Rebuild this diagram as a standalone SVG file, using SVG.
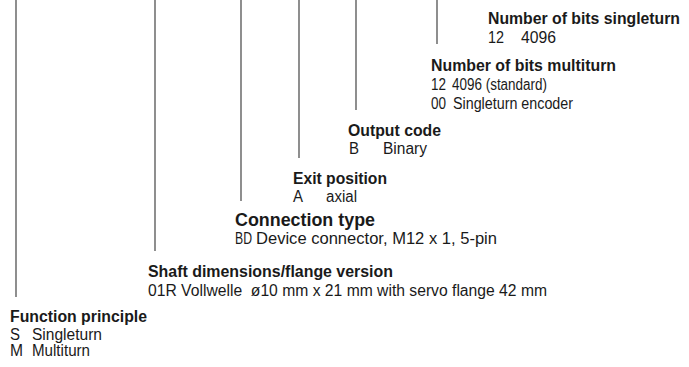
<svg xmlns="http://www.w3.org/2000/svg" width="689" height="367" viewBox="0 0 689 367">
<style>
text{font-family:"Liberation Sans",Arial,sans-serif;fill:#1a1a1a}
.t{font-size:16px;font-weight:bold}
.tc{font-size:18px;font-weight:bold}
.r{font-size:16px}
.c line{stroke:#444;stroke-width:1.2}
</style>
<rect width="689" height="367" fill="#fff"/>
<g class="c" id="connectors">
<line x1="16" y1="0" x2="16" y2="297"/>
<line x1="155" y1="0" x2="155" y2="251"/>
<line x1="241" y1="0" x2="241" y2="201"/>
<line x1="299" y1="0" x2="299" y2="158"/>
<line x1="356" y1="0" x2="356" y2="110"/>
<line x1="437" y1="0" x2="437" y2="44"/>
</g>
<g id="singleturn">
<text class="t" x="488" y="24" textLength="192" lengthAdjust="spacingAndGlyphs">Number of bits singleturn</text>
<text class="r" x="488" y="43" textLength="16" lengthAdjust="spacingAndGlyphs">12</text>
<text class="r" x="521" y="43" textLength="35" lengthAdjust="spacingAndGlyphs">4096</text>
</g>
<g id="multiturn">
<text class="t" x="431" y="71" textLength="185" lengthAdjust="spacingAndGlyphs">Number of bits multiturn</text>
<text class="r" x="431" y="90" textLength="15" lengthAdjust="spacingAndGlyphs">12</text>
<text class="r" x="452" y="90" textLength="95" lengthAdjust="spacingAndGlyphs">4096 (standard)</text>
<text class="r" x="431" y="108.5" textLength="15" lengthAdjust="spacingAndGlyphs">00</text>
<text class="r" x="453" y="108.5" textLength="120" lengthAdjust="spacingAndGlyphs">Singleturn encoder</text>
</g>
<g id="output-code">
<text class="t" x="348" y="136" textLength="93" lengthAdjust="spacingAndGlyphs">Output code</text>
<text class="r" x="349" y="154" textLength="10" lengthAdjust="spacingAndGlyphs">B</text>
<text class="r" x="383" y="154" textLength="44" lengthAdjust="spacingAndGlyphs">Binary</text>
</g>
<g id="exit-position">
<text class="t" x="293" y="184" textLength="94" lengthAdjust="spacingAndGlyphs">Exit position</text>
<text class="r" x="293" y="202" textLength="10" lengthAdjust="spacingAndGlyphs">A</text>
<text class="r" x="326" y="202" textLength="31" lengthAdjust="spacingAndGlyphs">axial</text>
</g>
<g id="connection-type">
<text class="tc" x="235" y="226" textLength="140" lengthAdjust="spacingAndGlyphs">Connection type</text>
<text class="r" x="235" y="244" textLength="17" lengthAdjust="spacingAndGlyphs">BD</text>
<text class="r" x="256" y="244" textLength="241" lengthAdjust="spacingAndGlyphs">Device connector, M12 x 1, 5-pin</text>
</g>
<g id="shaft">
<text class="t" x="148" y="277" textLength="245" lengthAdjust="spacingAndGlyphs">Shaft dimensions/flange version</text>
<text class="r" x="148" y="295.5" textLength="399" lengthAdjust="spacingAndGlyphs" xml:space="preserve">01R Vollwelle  ø10 mm x 21 mm with servo flange 42 mm</text>
</g>
<g id="function-principle">
<text class="t" x="10" y="322" textLength="137" lengthAdjust="spacingAndGlyphs">Function principle</text>
<text class="r" x="10" y="339.5" textLength="10" lengthAdjust="spacingAndGlyphs">S</text>
<text class="r" x="32" y="339.5" textLength="70" lengthAdjust="spacingAndGlyphs">Singleturn</text>
<text class="r" x="10" y="356" textLength="13" lengthAdjust="spacingAndGlyphs">M</text>
<text class="r" x="32" y="356" textLength="58" lengthAdjust="spacingAndGlyphs">Multiturn</text>
</g>
</svg>
